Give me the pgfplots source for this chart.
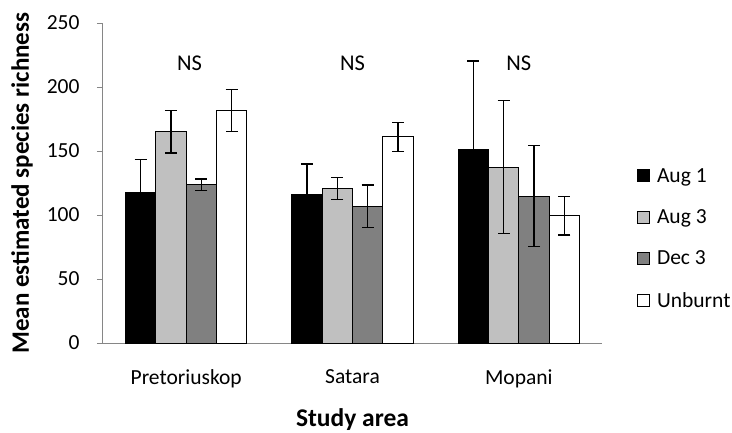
\documentclass[border=0pt]{standalone}
\usepackage{pgfplots}
\pgfplotsset{compat=1.18}
\usepackage{fontspec}
\setmainfont{Carlito}
\definecolor{axgray}{HTML}{868686}
\definecolor{lgray}{HTML}{C0C0C0}
\definecolor{mgray}{HTML}{808080}
\begin{document}
\begin{tikzpicture}
\useasboundingbox (-103pt,-89pt) rectangle (629pt,343pt);
\begin{axis}[
  scale only axis,
  width=499pt, height=320pt,
  ybar=0pt,
  bar width=0.1826,
  xmin=-0.5, xmax=2.5,
  ymin=0, ymax=250,
  ytick={0,50,100,150,200,250},
  xtick={0,1,2},
  xticklabels={Pretoriuskop,Satara,Mopani},
  major x tick style={draw=none},
  extra x ticks={-0.5,0.5,1.5,2.5},
  extra x tick labels={},
  extra x tick style={major tick length=6pt, tick style={axgray, line width=0.8pt}},
  axis x line*=bottom,
  axis y line*=left,
  axis line style={axgray, line width=1pt, -},
  tick align=outside,
  major tick length=6pt,
  tick style={axgray, line width=0.8pt},
  font=\fontsize{21.5}{25}\selectfont,
  /pgf/number format/assume math mode=true,
  yticklabel style={font=\fontsize{21.5}{25}\selectfont, xshift=-14pt},
  xticklabel style={font=\fontsize{21.5}{25}\selectfont, yshift=-17pt},
  xlabel={\textbf{Study area}},
  ylabel={\textbf{Mean estimated species richness}},
  xlabel style={font=\fontsize{25.5}{30}\selectfont, at={(axis description cs:0.5,-0.262)}, anchor=base},
  ylabel style={font=\fontsize{25}{30}\selectfont, at={(axis description cs:-0.162,0.5)}, anchor=center, rotate=0},
  legend style={draw=none, fill=none, at={(1.07,0.553)}, anchor=north west,
    font=\fontsize{21.5}{25}\selectfont, row sep=22pt, inner sep=0pt,
    /tikz/every odd column/.append style={column sep=5pt}},
  legend cell align=left,
  legend image code/.code={\draw[#1, draw=black, line width=0.9pt] (0pt,-6pt) rectangle (12pt,6pt);},
  error bars/error bar style={black, line width=1.2pt},
  error bars/error mark options={black, line width=1.2pt, rotate=90, mark size=6pt},
  clip=false,
]
\addplot+[draw=black, line width=1pt, fill=black, error bars/.cd, y dir=both, y explicit]
  coordinates {(0,117.4) +- (0,26) (1,116.4) +- (0,23.5) (2,151.3) +- (0,69)};
\addplot+[draw=black, line width=1pt, fill=lgray, error bars/.cd, y dir=both, y explicit]
  coordinates {(0,165) +- (0,16.5) (1,120.8) +- (0,8.8) (2,137.5) +- (0,51.7)};
\addplot+[draw=black, line width=1pt, fill=mgray, error bars/.cd, y dir=both, y explicit]
  coordinates {(0,123.7) +- (0,4.4) (1,107) +- (0,16.5) (2,114.8) +- (0,39.6)};
\addplot+[draw=black, line width=1pt, fill=white, error bars/.cd, y dir=both, y explicit]
  coordinates {(0,181.8) +- (0,16.5) (1,161.2) +- (0,11.3) (2,99.5) +- (0,15.2)};
\legend{Aug 1, Aug 3, Dec 3, Unburnt}
\node[font=\fontsize{22.5}{26}\selectfont] at (axis cs:0.02,218.4) {NS};
\node[font=\fontsize{22.5}{26}\selectfont] at (axis cs:1.0,218.4) {NS};
\node[font=\fontsize{22.5}{26}\selectfont] at (axis cs:2.0,218.4) {NS};
\end{axis}
\end{tikzpicture}
\end{document}
